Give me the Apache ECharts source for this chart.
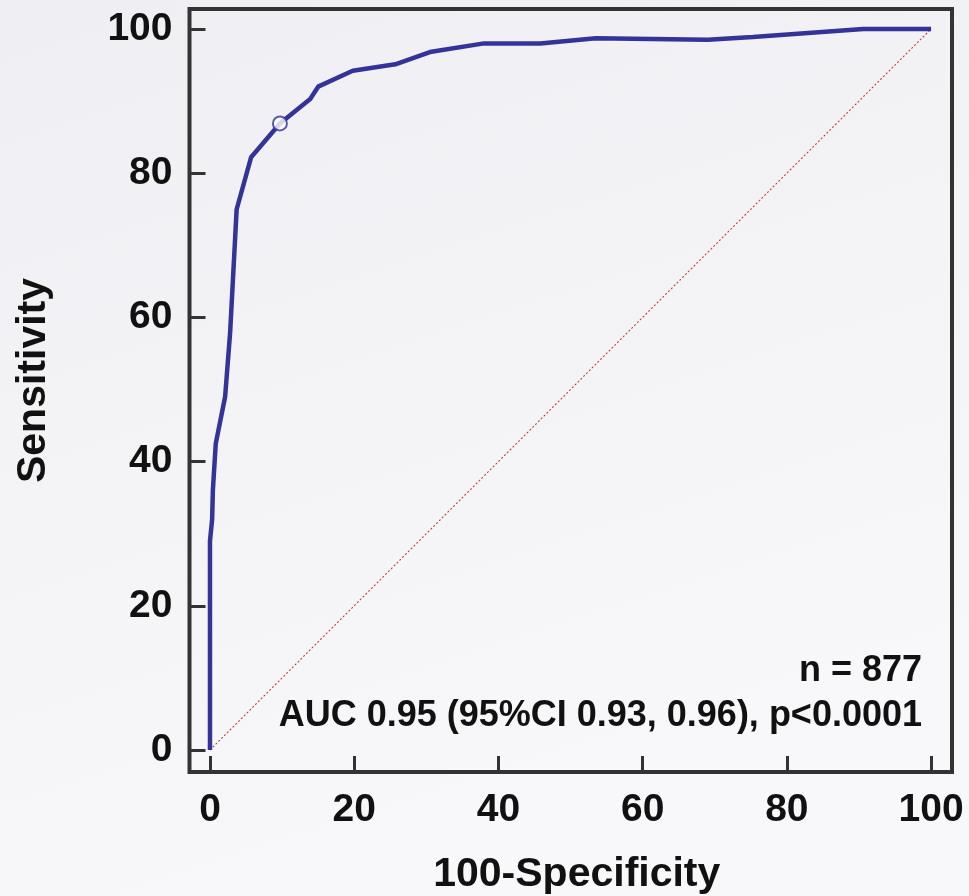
<!DOCTYPE html>
<html>
<head>
<meta charset="utf-8">
<script src="https://cdn.jsdelivr.net/npm/echarts@6/dist/echarts.min.js"></script>
<style>
html,body{margin:0;padding:0;}
#chart{width:969px;height:896px;}
</style>
</head>
<body>
<div id="chart"></div>
<script>
// ROC curve points: [100-Specificity, Sensitivity]
const rocX = [0, 0, 0.3, 0.4, 0.8, 2.1, 2.8, 3.7, 5.7, 9.7, 13.9, 15, 19.8, 25.7, 30.5, 38, 45.8, 53.5, 69, 75.3, 90.6, 100];
const rocY = [0, 29, 32, 36, 42.5, 49, 58, 75, 82.2, 86.9, 90.3, 92, 94.2, 95.1, 96.8, 98, 98, 98.7, 98.5, 98.9, 100, 100];
const refX = [0, 100];
const refY = [0, 100];
const cutX = [9.7];
const cutY = [86.9];
const tickValues = [0, 20, 40, 60, 80, 100];
const annN = 'n = 877';
const annAUC = 'AUC 0.95 (95%CI 0.93, 0.96), p<0.0001';

const zip = (a, b) => a.map((v, i) => [v, b[i]]);
const font = '"Liberation Sans", Arial, sans-serif';

const chart = echarts.init(document.getElementById('chart'), null, {renderer: 'canvas'});
const axisCommon = {
  type: 'value',
  axisLine: {show: false, onZero: false},
  axisTick: {show: true, inside: true, length: 16, customValues: tickValues,
    lineStyle: {color: '#333', width: 3}},
  splitLine: {show: false},
  nameTextStyle: {color: '#111', fontFamily: font, fontWeight: 'bold', fontSize: 41},
  nameLocation: 'middle'
};
const labelCommon = {color: '#111', fontFamily: font, fontWeight: 'bold', fontSize: 39,
  customValues: tickValues, showMinLabel: true, showMaxLabel: true};
chart.setOption({
  animation: false,
  backgroundColor: {type: 'linear', x: 0, y: 0, x2: 0.3, y2: 1,
    colorStops: [{offset: 0, color: '#efeff3'}, {offset: 1, color: '#f8f8fa'}]},
  grid: {left: 189.5, right: 17, top: 9, bottom: 124, containLabel: false, outerBoundsMode: 'none',
    show: true, backgroundColor: 'transparent', borderColor: '#333', borderWidth: 4},
  xAxis: Object.assign({}, axisCommon, {
    min: -2.84, max: 102.9,
    name: '100-Specificity', nameGap: 82,
    nameTextStyle: Object.assign({}, axisCommon.nameTextStyle, {padding: [0, 0, 0, 12]}),
    axisLabel: Object.assign({}, labelCommon, {margin: 19})
  }),
  yAxis: Object.assign({}, axisCommon, {
    min: -3.05, max: 102.77,
    name: 'Sensitivity', nameGap: 135,
    nameTextStyle: Object.assign({}, axisCommon.nameTextStyle, {padding: [0, 0, 0, 20]}),
    axisLabel: Object.assign({}, labelCommon, {margin: 17})
  }),
  graphic: [
    {type: 'text', z: 100, right: 969 - 922, top: 653,
      style: {text: annN, font: 'bold 36px ' + font, fill: '#111', textAlign: 'right'}},
    {type: 'text', z: 100, right: 969 - 922, top: 698,
      style: {text: annAUC, font: 'bold 36px ' + font, fill: '#111', textAlign: 'right'}}
  ],
  series: [
    {type: 'line', data: zip(refX, refY), symbol: 'none', silent: true,
      lineStyle: {color: '#c0504d', width: 1.2, type: [2, 2]}},
    {type: 'line', data: zip(rocX, rocY), symbol: 'none', smooth: false,
      lineStyle: {color: '#333399', width: 4.5}},
    {type: 'scatter', data: zip(cutX, cutY), symbol: 'circle', symbolSize: 14, z: 5,
      itemStyle: {color: '#ffffff', borderColor: '#333399', borderWidth: 2}}
  ]
});
</script>
</body>
</html>
